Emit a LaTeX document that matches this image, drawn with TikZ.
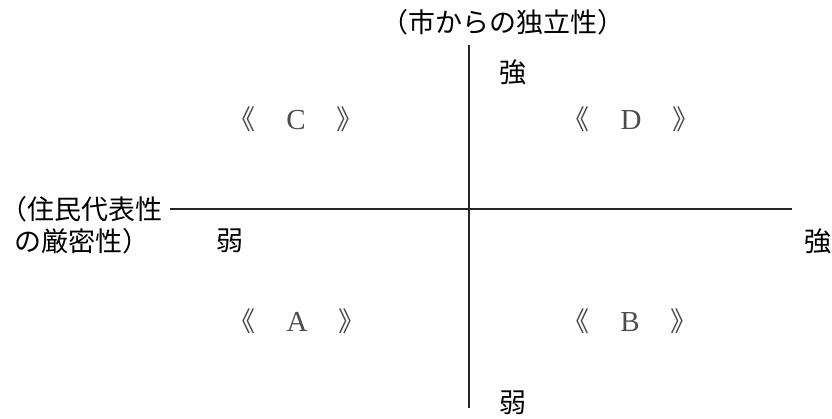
\documentclass[tikz,border=0pt]{standalone}
\usepackage{fontspec}
\setmainfont{Noto Sans CJK JP}
\newfontfamily\latinfont{Liberation Serif}
\begin{document}
\begin{tikzpicture}[x=1pt,y=-1pt,
  lbl/.style={inner sep=0pt,font=\fontsize{27}{30}\selectfont},
  quad/.style={inner sep=0pt,text=black!70,font=\fontsize{27}{30}\selectfont},
  axis/.style={line width=1.8pt,black!85}]
\useasboundingbox (0,0) rectangle (832,418);
% axes endpoints
\coordinate (vtop) at (469,45);
\coordinate (vbot) at (469,408);
\coordinate (hleft) at (170,209);
\coordinate (hright) at (792,209);
\draw[axis] (vtop) -- (vbot);
\draw[axis] (hleft) -- (hright);
% labels
\newcommand{\qlet}[1]{《\hspace{31pt}{\latinfont\fontsize{29}{30}\selectfont #1}\hspace{31pt}》}
\node[lbl] (ytitle) at (503,22) {（市からの独立性）};
\node[lbl] (ystrong) at (513,72) {強};
\node[lbl] (yweak) at (513,403) {弱};
\node[lbl,anchor=west] (xtitle1) at (0,209) {（住民代表性};
\node[lbl,anchor=west] (xtitle2) at (14,241) {の厳密性）};
\node[lbl] (xweak) at (230,241) {弱};
\node[lbl] (xstrong) at (818,241) {強};
\node[quad] (qc) at (296,119) {\qlet{C}};
\node[quad] (qd) at (631,119) {\qlet{D}};
\node[quad] (qa) at (297,321) {\qlet{A}};
\node[quad] (qb) at (630,321) {\qlet{B}};
\end{tikzpicture}
\end{document}
